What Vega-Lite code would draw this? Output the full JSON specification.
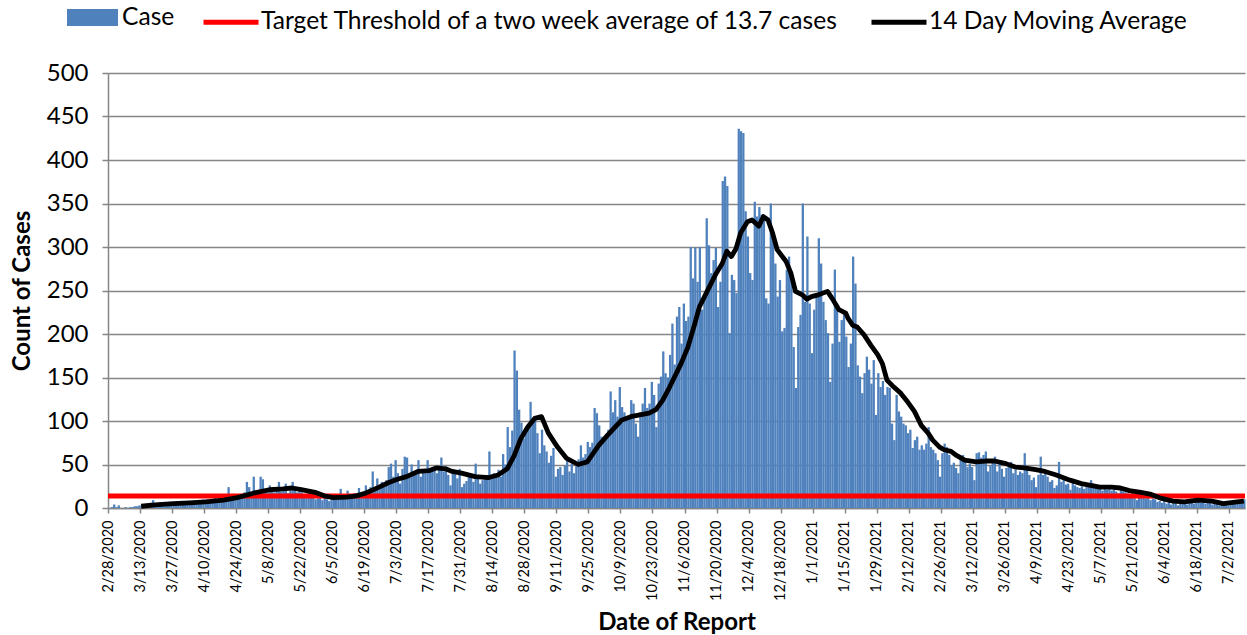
{
"$schema": "https://vega.github.io/schema/vega-lite/v6.json",
"width": 1137, "height": 435,
"autosize": "none",
"padding": {"left": 108, "top": 73, "right": 2, "bottom": 127},
"background": "white",
"config": {"view": {"stroke": null}, "font": "Lato",
 "axis": {"labelOverlap": false, "labelSeparation": 0},
 "legend": {"labelFont": "Lato", "labelFontSize": 24.6, "labelColor": "#000000", "labelOffset": 0, "columnPadding": 22, "labelLimit": 0}},
"datasets": {
"cases": [
{"d":"2020-02-28","c":0},{"d":"2020-02-29","c":1},{"d":"2020-03-01","c":4},{"d":"2020-03-02","c":1},{"d":"2020-03-03","c":3},{"d":"2020-03-04","c":0},{"d":"2020-03-05","c":0},{"d":"2020-03-06","c":1},{"d":"2020-03-07","c":0},{"d":"2020-03-08","c":1},{"d":"2020-03-09","c":1},{"d":"2020-03-10","c":2},{"d":"2020-03-11","c":2},{"d":"2020-03-12","c":3},
{"d":"2020-03-13","c":3},{"d":"2020-03-14","c":4},{"d":"2020-03-15","c":5},{"d":"2020-03-16","c":4},{"d":"2020-03-17","c":6},{"d":"2020-03-18","c":9},{"d":"2020-03-19","c":5},{"d":"2020-03-20","c":4},{"d":"2020-03-21","c":6},{"d":"2020-03-22","c":5},{"d":"2020-03-23","c":7},{"d":"2020-03-24","c":5},{"d":"2020-03-25","c":6},{"d":"2020-03-26","c":7},
{"d":"2020-03-27","c":5},{"d":"2020-03-28","c":6},{"d":"2020-03-29","c":7},{"d":"2020-03-30","c":8},{"d":"2020-03-31","c":5},{"d":"2020-04-01","c":6},{"d":"2020-04-02","c":7},{"d":"2020-04-03","c":6},{"d":"2020-04-04","c":8},{"d":"2020-04-05","c":5},{"d":"2020-04-06","c":7},{"d":"2020-04-07","c":6},{"d":"2020-04-08","c":9},{"d":"2020-04-09","c":10},
{"d":"2020-04-10","c":7},{"d":"2020-04-11","c":9},{"d":"2020-04-12","c":6},{"d":"2020-04-13","c":10},{"d":"2020-04-14","c":12},{"d":"2020-04-15","c":8},{"d":"2020-04-16","c":11},{"d":"2020-04-17","c":9},{"d":"2020-04-18","c":13},{"d":"2020-04-19","c":10},{"d":"2020-04-20","c":24},{"d":"2020-04-21","c":12},{"d":"2020-04-22","c":14},{"d":"2020-04-23","c":11},
{"d":"2020-04-24","c":14},{"d":"2020-04-25","c":16},{"d":"2020-04-26","c":12},{"d":"2020-04-27","c":18},{"d":"2020-04-28","c":30},{"d":"2020-04-29","c":24},{"d":"2020-04-30","c":17},{"d":"2020-05-01","c":36},{"d":"2020-05-02","c":20},{"d":"2020-05-03","c":15},{"d":"2020-05-04","c":36},{"d":"2020-05-05","c":33},{"d":"2020-05-06","c":19},{"d":"2020-05-07","c":22},
{"d":"2020-05-08","c":26},{"d":"2020-05-09","c":20},{"d":"2020-05-10","c":18},{"d":"2020-05-11","c":22},{"d":"2020-05-12","c":30},{"d":"2020-05-13","c":19},{"d":"2020-05-14","c":21},{"d":"2020-05-15","c":28},{"d":"2020-05-16","c":17},{"d":"2020-05-17","c":20},{"d":"2020-05-18","c":30},{"d":"2020-05-19","c":22},{"d":"2020-05-20","c":18},{"d":"2020-05-21","c":21},
{"d":"2020-05-22","c":18},{"d":"2020-05-23","c":15},{"d":"2020-05-24","c":14},{"d":"2020-05-25","c":20},{"d":"2020-05-26","c":12},{"d":"2020-05-27","c":16},{"d":"2020-05-28","c":10},{"d":"2020-05-29","c":11},{"d":"2020-05-30","c":13},{"d":"2020-05-31","c":9},{"d":"2020-06-01","c":12},{"d":"2020-06-02","c":10},{"d":"2020-06-03","c":8},{"d":"2020-06-04","c":11},
{"d":"2020-06-05","c":12},{"d":"2020-06-06","c":10},{"d":"2020-06-07","c":14},{"d":"2020-06-08","c":22},{"d":"2020-06-09","c":11},{"d":"2020-06-10","c":13},{"d":"2020-06-11","c":20},{"d":"2020-06-12","c":12},{"d":"2020-06-13","c":15},{"d":"2020-06-14","c":17},{"d":"2020-06-15","c":14},{"d":"2020-06-16","c":23},{"d":"2020-06-17","c":16},{"d":"2020-06-18","c":19},
{"d":"2020-06-19","c":26},{"d":"2020-06-20","c":18},{"d":"2020-06-21","c":24},{"d":"2020-06-22","c":42},{"d":"2020-06-23","c":22},{"d":"2020-06-24","c":34},{"d":"2020-06-25","c":26},{"d":"2020-06-26","c":30},{"d":"2020-06-27","c":28},{"d":"2020-06-28","c":32},{"d":"2020-06-29","c":47},{"d":"2020-06-30","c":51},{"d":"2020-07-01","c":36},{"d":"2020-07-02","c":55},
{"d":"2020-07-03","c":40},{"d":"2020-07-04","c":28},{"d":"2020-07-05","c":45},{"d":"2020-07-06","c":59},{"d":"2020-07-07","c":58},{"d":"2020-07-08","c":38},{"d":"2020-07-09","c":50},{"d":"2020-07-10","c":40},{"d":"2020-07-11","c":38},{"d":"2020-07-12","c":55},{"d":"2020-07-13","c":36},{"d":"2020-07-14","c":42},{"d":"2020-07-15","c":40},{"d":"2020-07-16","c":55},
{"d":"2020-07-17","c":44},{"d":"2020-07-18","c":44},{"d":"2020-07-19","c":45},{"d":"2020-07-20","c":40},{"d":"2020-07-21","c":46},{"d":"2020-07-22","c":58},{"d":"2020-07-23","c":42},{"d":"2020-07-24","c":48},{"d":"2020-07-25","c":38},{"d":"2020-07-26","c":26},{"d":"2020-07-27","c":44},{"d":"2020-07-28","c":40},{"d":"2020-07-29","c":34},{"d":"2020-07-30","c":45},
{"d":"2020-07-31","c":24},{"d":"2020-08-01","c":28},{"d":"2020-08-02","c":31},{"d":"2020-08-03","c":38},{"d":"2020-08-04","c":38},{"d":"2020-08-05","c":30},{"d":"2020-08-06","c":51},{"d":"2020-08-07","c":36},{"d":"2020-08-08","c":28},{"d":"2020-08-09","c":32},{"d":"2020-08-10","c":34},{"d":"2020-08-11","c":38},{"d":"2020-08-12","c":65},{"d":"2020-08-13","c":34},
{"d":"2020-08-14","c":40},{"d":"2020-08-15","c":38},{"d":"2020-08-16","c":44},{"d":"2020-08-17","c":36},{"d":"2020-08-18","c":62},{"d":"2020-08-19","c":50},{"d":"2020-08-20","c":93},{"d":"2020-08-21","c":70},{"d":"2020-08-22","c":89},{"d":"2020-08-23","c":181},{"d":"2020-08-24","c":158},{"d":"2020-08-25","c":113},{"d":"2020-08-26","c":98},{"d":"2020-08-27","c":80},
{"d":"2020-08-28","c":86},{"d":"2020-08-29","c":95},{"d":"2020-08-30","c":122},{"d":"2020-08-31","c":100},{"d":"2020-09-01","c":104},{"d":"2020-09-02","c":86},{"d":"2020-09-03","c":63},{"d":"2020-09-04","c":90},{"d":"2020-09-05","c":72},{"d":"2020-09-06","c":65},{"d":"2020-09-07","c":52},{"d":"2020-09-08","c":60},{"d":"2020-09-09","c":69},{"d":"2020-09-10","c":36},
{"d":"2020-09-11","c":45},{"d":"2020-09-12","c":47},{"d":"2020-09-13","c":38},{"d":"2020-09-14","c":49},{"d":"2020-09-15","c":55},{"d":"2020-09-16","c":42},{"d":"2020-09-17","c":51},{"d":"2020-09-18","c":40},{"d":"2020-09-19","c":48},{"d":"2020-09-20","c":56},{"d":"2020-09-21","c":72},{"d":"2020-09-22","c":58},{"d":"2020-09-23","c":62},{"d":"2020-09-24","c":76},
{"d":"2020-09-25","c":70},{"d":"2020-09-26","c":75},{"d":"2020-09-27","c":115},{"d":"2020-09-28","c":109},{"d":"2020-09-29","c":95},{"d":"2020-09-30","c":82},{"d":"2020-10-01","c":80},{"d":"2020-10-02","c":85},{"d":"2020-10-03","c":90},{"d":"2020-10-04","c":134},{"d":"2020-10-05","c":110},{"d":"2020-10-06","c":124},{"d":"2020-10-07","c":105},{"d":"2020-10-08","c":139},
{"d":"2020-10-09","c":116},{"d":"2020-10-10","c":110},{"d":"2020-10-11","c":103},{"d":"2020-10-12","c":105},{"d":"2020-10-13","c":124},{"d":"2020-10-14","c":120},{"d":"2020-10-15","c":97},{"d":"2020-10-16","c":82},{"d":"2020-10-17","c":110},{"d":"2020-10-18","c":120},{"d":"2020-10-19","c":138},{"d":"2020-10-20","c":115},{"d":"2020-10-21","c":120},{"d":"2020-10-22","c":145},
{"d":"2020-10-23","c":130},{"d":"2020-10-24","c":93},{"d":"2020-10-25","c":143},{"d":"2020-10-26","c":151},{"d":"2020-10-27","c":180},{"d":"2020-10-28","c":155},{"d":"2020-10-29","c":150},{"d":"2020-10-30","c":176},{"d":"2020-10-31","c":212},{"d":"2020-11-01","c":165},{"d":"2020-11-02","c":220},{"d":"2020-11-03","c":231},{"d":"2020-11-04","c":189},{"d":"2020-11-05","c":235},
{"d":"2020-11-06","c":215},{"d":"2020-11-07","c":220},{"d":"2020-11-08","c":300},{"d":"2020-11-09","c":264},{"d":"2020-11-10","c":299},{"d":"2020-11-11","c":260},{"d":"2020-11-12","c":300},{"d":"2020-11-13","c":228},{"d":"2020-11-14","c":245},{"d":"2020-11-15","c":333},{"d":"2020-11-16","c":302},{"d":"2020-11-17","c":270},{"d":"2020-11-18","c":285},{"d":"2020-11-19","c":299},
{"d":"2020-11-20","c":231},{"d":"2020-11-21","c":260},{"d":"2020-11-22","c":376},{"d":"2020-11-23","c":381},{"d":"2020-11-24","c":370},{"d":"2020-11-25","c":201},{"d":"2020-11-26","c":268},{"d":"2020-11-27","c":262},{"d":"2020-11-28","c":247},{"d":"2020-11-29","c":436},{"d":"2020-11-30","c":433},{"d":"2020-12-01","c":431},{"d":"2020-12-02","c":341},{"d":"2020-12-03","c":312},
{"d":"2020-12-04","c":270},{"d":"2020-12-05","c":262},{"d":"2020-12-06","c":352},{"d":"2020-12-07","c":335},{"d":"2020-12-08","c":346},{"d":"2020-12-09","c":337},{"d":"2020-12-10","c":331},{"d":"2020-12-11","c":241},{"d":"2020-12-12","c":235},{"d":"2020-12-13","c":350},{"d":"2020-12-14","c":312},{"d":"2020-12-15","c":281},{"d":"2020-12-16","c":243},{"d":"2020-12-17","c":262},
{"d":"2020-12-18","c":203},{"d":"2020-12-19","c":207},{"d":"2020-12-20","c":274},{"d":"2020-12-21","c":289},{"d":"2020-12-22","c":272},{"d":"2020-12-23","c":185},{"d":"2020-12-24","c":138},{"d":"2020-12-25","c":208},{"d":"2020-12-26","c":222},{"d":"2020-12-27","c":350},{"d":"2020-12-28","c":237},{"d":"2020-12-29","c":312},{"d":"2020-12-30","c":235},{"d":"2020-12-31","c":178},
{"d":"2021-01-01","c":228},{"d":"2021-01-02","c":247},{"d":"2021-01-03","c":310},{"d":"2021-01-04","c":281},{"d":"2021-01-05","c":237},{"d":"2021-01-06","c":216},{"d":"2021-01-07","c":201},{"d":"2021-01-08","c":145},{"d":"2021-01-09","c":189},{"d":"2021-01-10","c":274},{"d":"2021-01-11","c":228},{"d":"2021-01-12","c":191},{"d":"2021-01-13","c":216},{"d":"2021-01-14","c":224},
{"d":"2021-01-15","c":197},{"d":"2021-01-16","c":162},{"d":"2021-01-17","c":189},{"d":"2021-01-18","c":289},{"d":"2021-01-19","c":258},{"d":"2021-01-20","c":164},{"d":"2021-01-21","c":151},{"d":"2021-01-22","c":132},{"d":"2021-01-23","c":155},{"d":"2021-01-24","c":174},{"d":"2021-01-25","c":159},{"d":"2021-01-26","c":143},{"d":"2021-01-27","c":170},{"d":"2021-01-28","c":107},
{"d":"2021-01-29","c":155},{"d":"2021-01-30","c":139},{"d":"2021-01-31","c":146},{"d":"2021-02-01","c":130},{"d":"2021-02-02","c":139},{"d":"2021-02-03","c":138},{"d":"2021-02-04","c":97},{"d":"2021-02-05","c":78},{"d":"2021-02-06","c":130},{"d":"2021-02-07","c":111},{"d":"2021-02-08","c":105},{"d":"2021-02-09","c":97},{"d":"2021-02-10","c":95},{"d":"2021-02-11","c":86},
{"d":"2021-02-12","c":90},{"d":"2021-02-13","c":69},{"d":"2021-02-14","c":78},{"d":"2021-02-15","c":82},{"d":"2021-02-16","c":67},{"d":"2021-02-17","c":72},{"d":"2021-02-18","c":67},{"d":"2021-02-19","c":74},{"d":"2021-02-20","c":93},{"d":"2021-02-21","c":70},{"d":"2021-02-22","c":67},{"d":"2021-02-23","c":63},{"d":"2021-02-24","c":55},{"d":"2021-02-25","c":36},
{"d":"2021-02-26","c":63},{"d":"2021-02-27","c":74},{"d":"2021-02-28","c":70},{"d":"2021-03-01","c":61},{"d":"2021-03-02","c":49},{"d":"2021-03-03","c":52},{"d":"2021-03-04","c":46},{"d":"2021-03-05","c":40},{"d":"2021-03-06","c":57},{"d":"2021-03-07","c":61},{"d":"2021-03-08","c":55},{"d":"2021-03-09","c":47},{"d":"2021-03-10","c":51},{"d":"2021-03-11","c":47},
{"d":"2021-03-12","c":32},{"d":"2021-03-13","c":63},{"d":"2021-03-14","c":64},{"d":"2021-03-15","c":58},{"d":"2021-03-16","c":61},{"d":"2021-03-17","c":65},{"d":"2021-03-18","c":42},{"d":"2021-03-19","c":49},{"d":"2021-03-20","c":55},{"d":"2021-03-21","c":59},{"d":"2021-03-22","c":42},{"d":"2021-03-23","c":51},{"d":"2021-03-24","c":45},{"d":"2021-03-25","c":36},
{"d":"2021-03-26","c":46},{"d":"2021-03-27","c":50},{"d":"2021-03-28","c":53},{"d":"2021-03-29","c":40},{"d":"2021-03-30","c":44},{"d":"2021-03-31","c":38},{"d":"2021-04-01","c":42},{"d":"2021-04-02","c":40},{"d":"2021-04-03","c":63},{"d":"2021-04-04","c":45},{"d":"2021-04-05","c":38},{"d":"2021-04-06","c":32},{"d":"2021-04-07","c":35},{"d":"2021-04-08","c":24},
{"d":"2021-04-09","c":38},{"d":"2021-04-10","c":59},{"d":"2021-04-11","c":38},{"d":"2021-04-12","c":40},{"d":"2021-04-13","c":36},{"d":"2021-04-14","c":30},{"d":"2021-04-15","c":32},{"d":"2021-04-16","c":23},{"d":"2021-04-17","c":26},{"d":"2021-04-18","c":53},{"d":"2021-04-19","c":30},{"d":"2021-04-20","c":32},{"d":"2021-04-21","c":27},{"d":"2021-04-22","c":28},
{"d":"2021-04-23","c":21},{"d":"2021-04-24","c":32},{"d":"2021-04-25","c":26},{"d":"2021-04-26","c":24},{"d":"2021-04-27","c":23},{"d":"2021-04-28","c":25},{"d":"2021-04-29","c":22},{"d":"2021-04-30","c":24},{"d":"2021-05-01","c":27},{"d":"2021-05-02","c":32},{"d":"2021-05-03","c":28},{"d":"2021-05-04","c":23},{"d":"2021-05-05","c":25},{"d":"2021-05-06","c":22},
{"d":"2021-05-07","c":20},{"d":"2021-05-08","c":24},{"d":"2021-05-09","c":21},{"d":"2021-05-10","c":23},{"d":"2021-05-11","c":20},{"d":"2021-05-12","c":21},{"d":"2021-05-13","c":19},{"d":"2021-05-14","c":17},{"d":"2021-05-15","c":22},{"d":"2021-05-16","c":19},{"d":"2021-05-17","c":18},{"d":"2021-05-18","c":17},{"d":"2021-05-19","c":16},{"d":"2021-05-20","c":17},
{"d":"2021-05-21","c":15},{"d":"2021-05-22","c":9},{"d":"2021-05-23","c":12},{"d":"2021-05-24","c":15},{"d":"2021-05-25","c":13},{"d":"2021-05-26","c":11},{"d":"2021-05-27","c":13},{"d":"2021-05-28","c":9},{"d":"2021-05-29","c":11},{"d":"2021-05-30","c":10},{"d":"2021-05-31","c":7},{"d":"2021-06-01","c":8},{"d":"2021-06-02","c":6},{"d":"2021-06-03","c":9},
{"d":"2021-06-04","c":5},{"d":"2021-06-05","c":7},{"d":"2021-06-06","c":4},{"d":"2021-06-07","c":8},{"d":"2021-06-08","c":6},{"d":"2021-06-09","c":3},{"d":"2021-06-10","c":7},{"d":"2021-06-11","c":5},{"d":"2021-06-12","c":8},{"d":"2021-06-13","c":4},{"d":"2021-06-14","c":6},{"d":"2021-06-15","c":9},{"d":"2021-06-16","c":5},{"d":"2021-06-17","c":7},
{"d":"2021-06-18","c":10},{"d":"2021-06-19","c":6},{"d":"2021-06-20","c":8},{"d":"2021-06-21","c":5},{"d":"2021-06-22","c":9},{"d":"2021-06-23","c":7},{"d":"2021-06-24","c":4},{"d":"2021-06-25","c":6},{"d":"2021-06-26","c":8},{"d":"2021-06-27","c":3},{"d":"2021-06-28","c":5},{"d":"2021-06-29","c":4},{"d":"2021-06-30","c":7},{"d":"2021-07-01","c":3},
{"d":"2021-07-02","c":6},{"d":"2021-07-03","c":5},{"d":"2021-07-04","c":8},{"d":"2021-07-05","c":6},{"d":"2021-07-06","c":9},{"d":"2021-07-07","c":7},{"d":"2021-07-08","c":10}
],
"ma": [
{"d":"2020-03-13","m":2},{"d":"2020-03-19","m":3.5},{"d":"2020-03-27","m":5},{"d":"2020-04-03","m":6},{"d":"2020-04-10","m":7},{"d":"2020-04-18","m":9},{"d":"2020-04-24","m":12},{"d":"2020-05-01","m":17},{"d":"2020-05-08","m":21},{"d":"2020-05-14","m":22},{"d":"2020-05-18","m":23},{"d":"2020-05-22","m":21},{"d":"2020-05-28","m":18},{"d":"2020-06-01","m":14},{"d":"2020-06-05","m":12},{"d":"2020-06-11","m":12.5},{"d":"2020-06-15","m":14},{"d":"2020-06-19","m":17},{"d":"2020-06-25","m":24},{"d":"2020-06-29","m":29},{"d":"2020-07-03","m":33},{"d":"2020-07-07","m":36},{"d":"2020-07-12","m":42},{"d":"2020-07-17","m":43},{"d":"2020-07-20","m":46},{"d":"2020-07-24","m":45},{"d":"2020-07-27","m":42},{"d":"2020-07-31","m":40},{"d":"2020-08-06","m":36},{"d":"2020-08-12","m":35},{"d":"2020-08-16","m":38},{"d":"2020-08-20","m":45},{"d":"2020-08-23","m":60},{"d":"2020-08-26","m":80},{"d":"2020-08-29","m":93},{"d":"2020-09-01","m":103},{"d":"2020-09-04","m":105},{"d":"2020-09-07","m":86},{"d":"2020-09-11","m":70},{"d":"2020-09-15","m":57},{"d":"2020-09-20","m":50},{"d":"2020-09-24","m":53},{"d":"2020-09-29","m":72},{"d":"2020-10-03","m":84},{"d":"2020-10-09","m":101},{"d":"2020-10-13","m":105},{"d":"2020-10-17","m":107},{"d":"2020-10-21","m":109},{"d":"2020-10-24","m":113},{"d":"2020-10-27","m":124},{"d":"2020-10-30","m":139},{"d":"2020-11-04","m":166},{"d":"2020-11-07","m":185},{"d":"2020-11-10","m":212},{"d":"2020-11-12","m":231},{"d":"2020-11-15","m":247},{"d":"2020-11-19","m":268},{"d":"2020-11-22","m":281},{"d":"2020-11-24","m":295},{"d":"2020-11-26","m":289},{"d":"2020-11-28","m":298},{"d":"2020-11-30","m":316},{"d":"2020-12-03","m":329},{"d":"2020-12-05","m":331},{"d":"2020-12-08","m":324},{"d":"2020-12-10","m":335},{"d":"2020-12-12","m":331},{"d":"2020-12-14","m":316},{"d":"2020-12-16","m":297},{"d":"2020-12-20","m":283},{"d":"2020-12-22","m":270},{"d":"2020-12-24","m":249},{"d":"2020-12-27","m":245},{"d":"2020-12-29","m":240},{"d":"2020-12-31","m":243},{"d":"2021-01-03","m":245},{"d":"2021-01-07","m":249},{"d":"2021-01-09","m":241},{"d":"2021-01-12","m":228},{"d":"2021-01-15","m":224},{"d":"2021-01-16","m":218},{"d":"2021-01-18","m":210},{"d":"2021-01-20","m":208},{"d":"2021-01-23","m":199},{"d":"2021-01-26","m":187},{"d":"2021-01-29","m":176},{"d":"2021-01-31","m":166},{"d":"2021-02-02","m":147},{"d":"2021-02-05","m":139},{"d":"2021-02-08","m":132},{"d":"2021-02-11","m":122},{"d":"2021-02-14","m":111},{"d":"2021-02-17","m":95},{"d":"2021-02-20","m":86},{"d":"2021-02-22","m":78},{"d":"2021-02-25","m":70},{"d":"2021-02-27","m":67},{"d":"2021-03-02","m":65},{"d":"2021-03-04","m":61},{"d":"2021-03-08","m":55},{"d":"2021-03-13","m":53},{"d":"2021-03-17","m":54},{"d":"2021-03-21","m":54},{"d":"2021-03-26","m":51},{"d":"2021-03-30","m":47},{"d":"2021-04-03","m":46},{"d":"2021-04-08","m":44},{"d":"2021-04-12","m":42},{"d":"2021-04-17","m":38},{"d":"2021-04-19","m":36},{"d":"2021-04-23","m":32},{"d":"2021-04-28","m":28},{"d":"2021-05-02","m":26},{"d":"2021-05-06","m":24},{"d":"2021-05-11","m":24},{"d":"2021-05-15","m":23},{"d":"2021-05-19","m":20},{"d":"2021-05-24","m":18},{"d":"2021-05-28","m":16},{"d":"2021-06-02","m":11},{"d":"2021-06-07","m":8},{"d":"2021-06-12","m":7},{"d":"2021-06-18","m":9},{"d":"2021-06-24","m":8},{"d":"2021-06-29","m":5},{"d":"2021-07-05","m":7},{"d":"2021-07-08","m":8}
],
"threshold": [{"t": 13.7}]
},
"layer": [
{"data": {"name": "cases"},
 "mark": {"type": "bar", "binSpacing": 0, "stroke": null},
 "encoding": {
  "x": {"field": "d", "type": "temporal", "timeUnit": "utcyearmonthdate",
   "scale": {"type": "utc", "domain": [1582848000000, 1625788800000]},
   "axis": {"values": [1582848000000,1584057600000,1585267200000,1586476800000,1587686400000,1588896000000,1590105600000,1591315200000,1592524800000,1593734400000,1594944000000,1596153600000,1597363200000,1598572800000,1599782400000,1600992000000,1602201600000,1603411200000,1604620800000,1605830400000,1607040000000,1608249600000,1609459200000,1610668800000,1611878400000,1613088000000,1614297600000,1615507200000,1616716800000,1617926400000,1619136000000,1620345600000,1621555200000,1622764800000,1623974400000,1625184000000],
    "tickCount": 100,
    "labelExpr": "utcFormat(datum.value, '%-m/%-d/%Y')", "labelAngle": -90, "labelFontSize": 14.5, "labelFont": "Lato", "labelColor": "#000000", "labelPadding": 7,
    "labelOverlap": false, "labelSeparation": 0, "labelBound": false, "labelFlush": false,
    "grid": false, "domainColor": "#868686", "domainWidth": 1.5, "tickColor": "#868686", "tickSize": 5, "tickWidth": 1.5,
    "title": "Date of Report", "titleFontSize": 24, "titleFont": "Lato", "titleFontWeight": "bold", "titleColor": "#000000", "titlePadding": 10}},
  "y": {"field": "c", "type": "quantitative",
   "scale": {"domain": [0, 500], "nice": false},
   "axis": {"values": [0,50,100,150,200,250,300,350,400,450,500], "labelFontSize": 24, "labelFont": "Lato", "labelColor": "#000000", "labelPadding": 14,
    "grid": true, "gridColor": "#868686", "gridWidth": 1.5, "domainColor": "#868686", "domainWidth": 1.5, "tickColor": "#868686", "tickSize": 6, "tickWidth": 1.5,
    "title": "Count of Cases", "titleFontSize": 24, "titleFont": "Lato", "titleFontWeight": "bold", "titleColor": "#000000", "titlePadding": 12}},
  "fill": {"datum": "Case", "scale": {"domain": ["Case"], "range": ["#4F81BD"]},
   "legend": {"title": null, "orient": "none", "legendX": -41, "legendY": -81, "labelOffset": 4, "symbolType": "M-1,-0.33H1V0.33H-1Z", "symbolSize": 2601, "symbolStrokeWidth": 0}}
 }},
{"data": {"name": "threshold"},
 "mark": {"type": "rule", "strokeWidth": 5},
 "encoding": {"y": {"field": "t", "type": "quantitative"},
  "stroke": {"datum": "Target Threshold of a two week average of 13.7 cases",
   "scale": {"domain": ["Target Threshold of a two week average of 13.7 cases", "14 Day Moving Average"], "range": ["#FF0000", "#000000"]},
   "legend": {"title": null, "orient": "none", "legendX": 93, "legendY": -81, "direction": "horizontal", "symbolType": "M-1,0H1", "symbolSize": 3025, "symbolStrokeWidth": 5}}}},
{"data": {"name": "ma"},
 "mark": {"type": "line", "strokeWidth": 4.8, "strokeJoin": "round"},
 "encoding": {
  "x": {"field": "d", "type": "temporal", "timeUnit": "utcyearmonthdate", "bandPosition": 0.5},
  "y": {"field": "m", "type": "quantitative"},
  "stroke": {"datum": "14 Day Moving Average"}
 }}
]
}
